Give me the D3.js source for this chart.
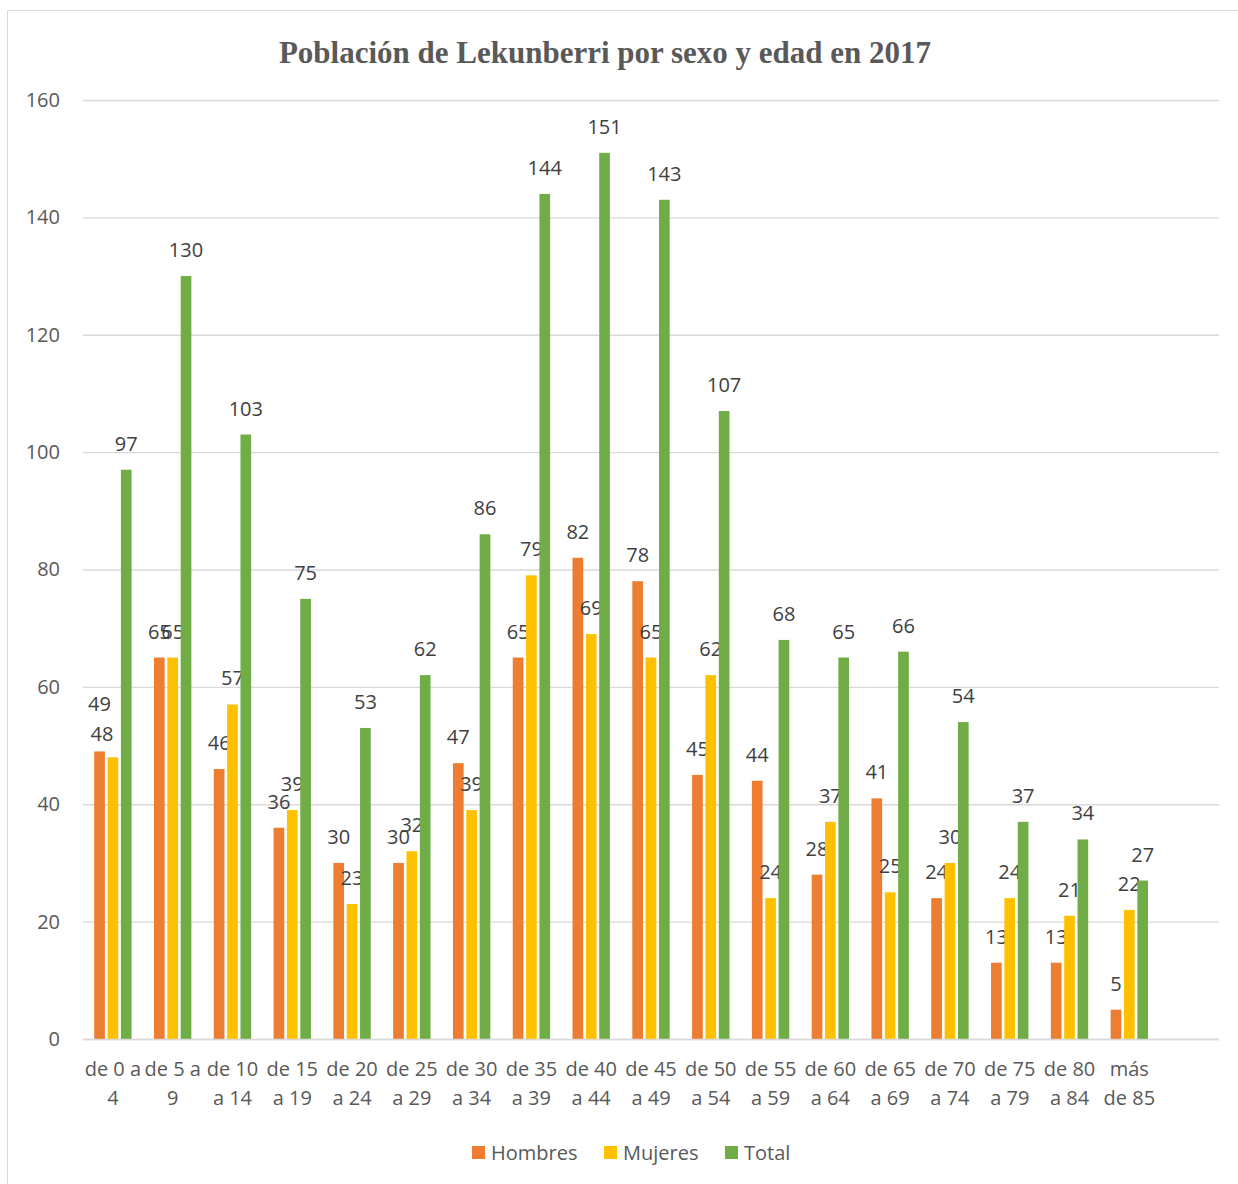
<!DOCTYPE html>
<html>
<head>
<meta charset="utf-8">
<script src="https://cdn.jsdelivr.net/npm/d3@7"></script>
<style>
  body { margin: 0; background: #fff; }
  text { font-family: "Open Sans", Lato, sans-serif; }
</style>
</head>
<body>
<div class="chart"></div>
<script>
// declare global values
const WIDTH = 1238;
const HEIGHT = 1184;

// data
const categories = [
  "de 0 a 4", "de 5 a 9", "de 10 a 14", "de 15 a 19", "de 20 a 24", "de 25 a 29",
  "de 30 a 34", "de 35 a 39", "de 40 a 44", "de 45 a 49", "de 50 a 54", "de 55 a 59",
  "de 60 a 64", "de 65 a 69", "de 70 a 74", "de 75 a 79", "de 80 a 84", "más de 85", ""
];
// how Excel wrapped each category label
const categoryLines = [
  ["de 0 a", "4"], ["de 5 a", "9"], ["de 10", "a 14"], ["de 15", "a 19"], ["de 20", "a 24"],
  ["de 25", "a 29"], ["de 30", "a 34"], ["de 35", "a 39"], ["de 40", "a 44"], ["de 45", "a 49"],
  ["de 50", "a 54"], ["de 55", "a 59"], ["de 60", "a 64"], ["de 65", "a 69"], ["de 70", "a 74"],
  ["de 75", "a 79"], ["de 80", "a 84"], ["más", "de 85"], ["", ""]
];
const hombres = [49, 65, 46, 36, 30, 30, 47, 65, 82, 78, 45, 44, 28, 41, 24, 13, 13, 5];
const mujeres = [48, 65, 57, 39, 23, 32, 39, 79, 69, 65, 62, 24, 37, 25, 30, 24, 21, 22];
const total = [97, 130, 103, 75, 53, 62, 86, 144, 151, 143, 107, 68, 65, 66, 54, 37, 34, 27];
const seriesNames = ["Hombres", "Mujeres", "Total"];
const yTicks = [0, 20, 40, 60, 80, 100, 120, 140, 160];

const COLORS = ["#ED7D31", "#FFC000", "#70AD47"];
const series = [hombres, mujeres, total];

// two labels in the first group were dragged by hand in the original
const labelNudge = { "0-0": [0, -21], "0-1": [-11, 3] };

const PLOT = { left: 83, right: 1219, top: 100, bottom: 1039 };

var svg = d3
  .select(".chart")
  .append("svg")
  .attr("width", WIDTH)
  .attr("height", HEIGHT);

// chart border
svg.append("rect")
  .attr("x", 7.5).attr("y", 10.5)
  .attr("width", WIDTH + 10).attr("height", HEIGHT + 10)
  .attr("fill", "none")
  .attr("stroke", "#d9d9d9");

// title
svg.append("text")
  .attr("x", 605).attr("y", 63)
  .attr("text-anchor", "middle")
  .attr("fill", "#595959")
  .style("font-family", "'Liberation Serif', serif")
  .style("font-weight", "bold")
  .style("font-size", "31px")
  .text("Población de Lekunberri por sexo y edad en 2017");

// scales
var x = d3.scaleBand().domain(categories).range([PLOT.left, PLOT.right]);
var x1 = d3.scaleBand().domain(seriesNames).range([0, x.bandwidth() * 0.625]).paddingInner(0.2);
var y = d3.scaleLinear().domain([0, 160]).range([PLOT.bottom, PLOT.top]);
var groupOffset = (x.bandwidth() - x1.range()[1]) / 2;

// y axis with gridlines
svg.append("g")
  .attr("transform", `translate(${PLOT.left},0)`)
  .call(d3.axisLeft(y).tickValues(yTicks).tickSize(-(PLOT.right - PLOT.left)).tickPadding(23))
  .call((g) => g.select(".domain").remove())
  .call((g) => g.selectAll(".tick line").attr("stroke", "#d9d9d9").attr("stroke-width", 1.3))
  .call((g) =>
    g.selectAll(".tick text")
      .attr("fill", "#595959")
      .style("font-size", "20px")
      .style("font-family", "'Open Sans', sans-serif")
  );

// bars
var groups = svg.append("g")
  .selectAll("g")
  .data(categories.slice(0, hombres.length))
  .join("g")
  .attr("transform", (d) => `translate(${x(d) + groupOffset},0)`);

groups.each(function (cat, i) {
  var g = d3.select(this);
  seriesNames.forEach(function (s, k) {
    var v = series[k][i];
    g.append("rect")
      .attr("x", x1(s))
      .attr("y", y(v))
      .attr("width", x1.bandwidth())
      .attr("height", y(0) - y(v))
      .attr("fill", COLORS[k]);
    var nudge = labelNudge[i + "-" + k] || [0, 0];
    g.append("text")
      .attr("x", x1(s) + x1.bandwidth() / 2 + nudge[0])
      .attr("y", y(v) - 19 + nudge[1])
      .attr("text-anchor", "middle")
      .attr("fill", "#404040")
      .style("font-size", "20px")
      .text(v);
  });
});

// x axis line
svg.append("line")
  .attr("x1", PLOT.left).attr("x2", PLOT.right)
  .attr("y1", y(0) + 0.5).attr("y2", y(0) + 0.5)
  .attr("stroke", "#d9d9d9").attr("stroke-width", 1.5);

// x labels, two lines each
var xl = svg.append("g")
  .selectAll("text")
  .data(categories)
  .join("text")
  .attr("text-anchor", "middle")
  .attr("fill", "#595959")
  .style("font-size", "20px");
xl.each(function (d, i) {
  var t = d3.select(this);
  categoryLines[i].forEach(function (line, j) {
    t.append("tspan")
      .attr("x", x(d) + x.bandwidth() / 2)
      .attr("y", 1076 + j * 29)
      .text(line);
  });
});

// legend
var legendX = [472, 604, 725];
var legend = svg.append("g")
  .selectAll("g")
  .data(seriesNames)
  .join("g")
  .attr("transform", (d, i) => `translate(${legendX[i]},1146)`);
legend.append("rect")
  .attr("width", 13).attr("height", 13)
  .attr("fill", (d, i) => COLORS[i]);
legend.append("text")
  .attr("x", 19).attr("y", 14)
  .attr("fill", "#595959")
  .style("font-size", "20px")
  .text((d) => d);
</script>
</body>
</html>
